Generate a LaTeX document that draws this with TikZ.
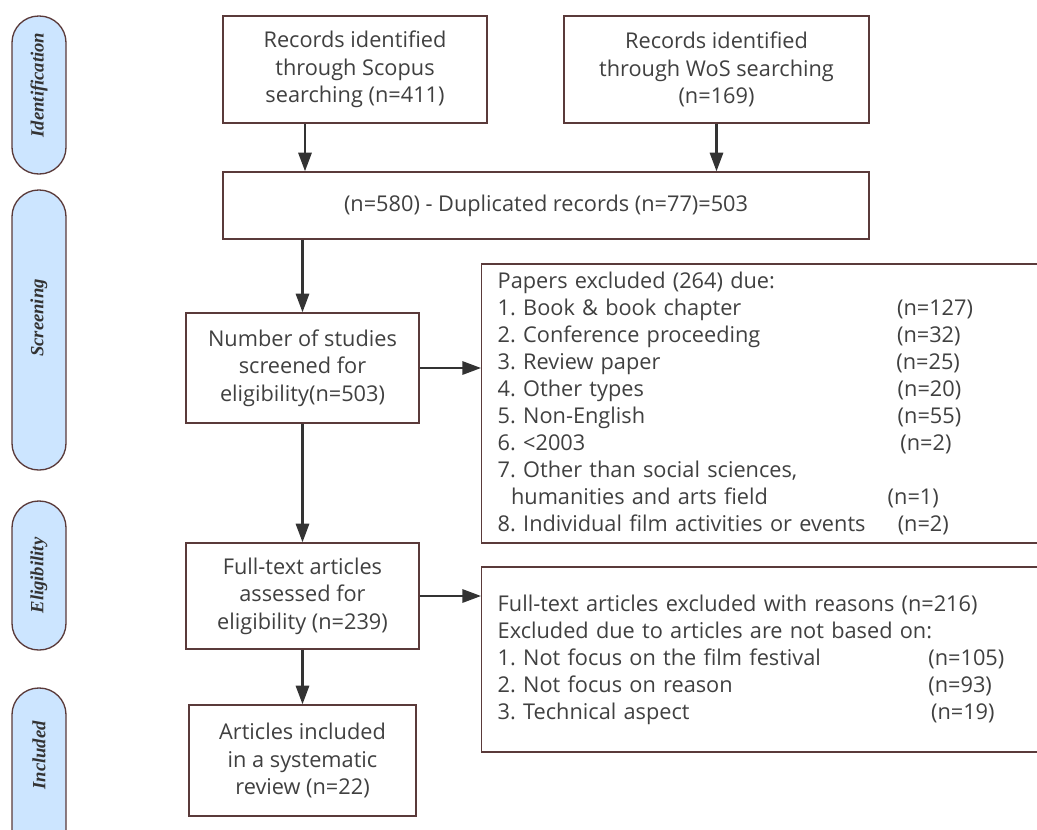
\documentclass[tikz,border=0pt]{standalone}
\usepackage{fontspec}
\setmainfont{Open Sans}
\newfontfamily\stagefont{Liberation Serif}
\usepackage{tikz}
\usetikzlibrary{arrows.meta}
\frenchspacing

\definecolor{boxline}{HTML}{5A3A3A}
\definecolor{txtgray}{HTML}{404040}
\definecolor{stagefill}{HTML}{CCE5FF}
\definecolor{arrowgray}{HTML}{333333}

\begin{document}
\begin{tikzpicture}
[
x=0.75pt, y=-0.75pt,
>={Triangle[length=14pt,width=10pt]},
every node/.style={text=txtgray, font=\fontsize{16.3}{20.6}\selectfont},
box/.style={draw=boxline, line width=1.1pt, fill=white, align=center, inner sep=0pt},
listbox/.style={draw=boxline, line width=1.1pt, fill=white, align=left, anchor=west,
  minimum width=450pt, text width=426pt, inner xsep=12pt,
  font=\fontsize{16.3}{20.2}\selectfont},
stage/.style={draw=boxline, line width=1pt, fill=stagefill, rotate=90,
  rounded corners=20pt, minimum height=40.5pt, inner sep=0pt,
  text=arrowgray, font=\stagefont\bfseries\itshape\fontsize{14}{16}\selectfont},
flow/.style={->, draw=arrowgray, line width=1.6pt}
]
\useasboundingbox (0,0) rectangle (1037,829);
\clip (0,0) rectangle (1037,829);

% stages on the left
\node[stage, minimum width=118.5pt] (ident) at (39,95) {\hspace*{15pt}Identification};
\node[stage, minimum width=210pt] (screening) at (39,330) {\hspace*{18pt}Screening};
\node[stage, minimum width=111.75pt] (elig) at (39,575.5) {Eligibility};
\node[stage, minimum width=129pt] (incl) at (39,774) {\hspace*{28pt}Included};

% main column
\node[box, minimum width=198pt, minimum height=80.25pt] (scopus) at (355,69.5)
  {Records identified\\through Scopus\\searching (n=411)};
\node[box, minimum width=228.75pt, minimum height=80.25pt] (wos) at (716.5,69.5)
  {Records identified\\through WoS searching\\(n=169)};
\node[box, minimum width=484.5pt, minimum height=50.25pt] (dup) at (546,205.5)
  {(n=580) - Duplicated records (n=77)=503};
\node[box, minimum width=174.75pt, minimum height=82.5pt] (screened) at (302.5,368)
  {Number of studies\\screened for\\eligibility(n=503)};
\node[box, minimum width=174.75pt, minimum height=79.5pt] (fulltext) at (302.5,596)
  {Full-text articles\\assessed for\\eligibility (n=239)};
\node[box, minimum width=170.25pt, minimum height=83.25pt] (included) at (302.5,760.5)
  {Articles included\\in a systematic\\review (n=22)};

% exclusion boxes
\node[listbox, minimum height=209.25pt] (papersout) at (481,403.5)
  {Papers excluded (264) due:\\
   \makebox[299.5pt][l]{1. Book \& book chapter}(n=127)\\
   \makebox[299.5pt][l]{2. Conference proceeding}(n=32)\\
   \makebox[299pt][l]{3. Review paper}(n=25)\\
   \makebox[300pt][l]{4. Other types}(n=20)\\
   \makebox[300pt][l]{5. Non-English}(n=55)\\
   \makebox[302pt][l]{6. <2003}(n=2)\\
   7. Other than social sciences,\\
   \makebox[292.5pt][l]{\hspace*{10pt}humanities and arts field}(n=1)\\
   \makebox[300pt][l]{8. Individual film activities or events}(n=2)};
\node[listbox, minimum height=138.75pt] (textout) at (481,659.5)
  {Full-text articles excluded with reasons (n=216)\\
   Excluded due to articles are not based on:\\
   \makebox[323pt][l]{1. Not focus on the film festival}(n=105)\\
   \makebox[323pt][l]{2. Not focus on reason}(n=93)\\
   \makebox[325pt][l]{3. Technical aspect}(n=19)};

% arrows
\draw[flow] ([xshift=-37.5pt]scopus.south) -- ([xshift=-37.5pt]scopus.south |- dup.north);
\draw[flow] (wos.south) -- (wos.south |- dup.north);
\draw[flow] (screened.north |- dup.south) -- (screened.north);
\draw[flow] (screened.east) -- (screened.east -| papersout.west);
\draw[flow] (screened.south) -- (fulltext.north);
\draw[flow] (fulltext.east) -- (fulltext.east -| textout.west);
\draw[flow] (fulltext.south) -- (included.north);
\end{tikzpicture}
\end{document}
